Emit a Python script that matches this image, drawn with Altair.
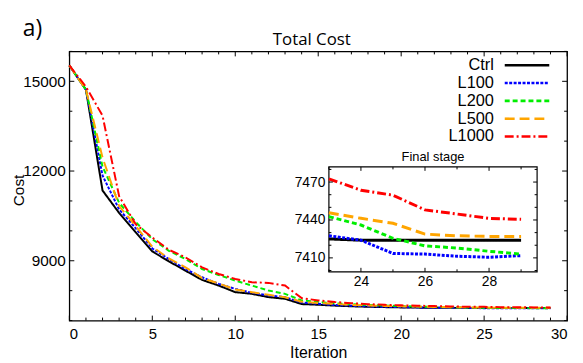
import altair as alt
import pandas as pd

# ---------------- data ----------------
ITER = list(range(30))
CTRL = [15530, 14720, 11350, 10600, 9950, 9312, 8980, 8668, 8359, 8171,
        7950, 7894, 7784, 7728, 7551, 7529, 7500, 7478, 7462, 7450,
        7440, 7433, 7428, 7425, 7424, 7424, 7424, 7424, 7424, 7424]
L100 = [15530, 14720, 11850, 10716, 10086, 9411, 9056, 8724, 8448, 8226,
        8060, 7928, 7838, 7784, 7600, 7560, 7520, 7495, 7476, 7462,
        7450, 7440, 7432, 7427.5, 7424, 7413.5, 7413, 7411.3, 7410.5, 7411.8]
L200 = [15530, 14720, 12150, 10937, 10296, 9721, 9333, 9056, 8724, 8525,
        8337, 8171, 8005, 7894, 7673, 7620, 7580, 7548, 7522, 7502,
        7485, 7470, 7455, 7442.6, 7436, 7425.5, 7419.5, 7417.8, 7415.2, 7413]
L500 = [15530, 14720, 12450, 10830, 10163, 9466, 9079, 8780, 8420, 8240,
        8038, 7950, 7861, 7780, 7630, 7590, 7555, 7525, 7505, 7490,
        7477, 7466, 7455, 7445.7, 7441.3, 7437.4, 7428.8, 7427.5, 7427, 7427]
L1000 = [15530, 14820, 13850, 11157, 10219, 9777, 9366, 9112, 8780, 8558,
         8392, 8282, 8260, 8171, 7751, 7673, 7620, 7580, 7550, 7527,
         7510, 7496, 7484, 7472.6, 7463.5, 7459.6, 7448, 7444.7, 7441.3, 7440.5]

SERIES = ["Ctrl", "L100", "L200", "L500", "L1000"]
VALUES = [CTRL, L100, L200, L500, L1000]
COLORS = ["#000000", "#0000ff", "#00ee00", "#ffa500", "#ff0000"]
DASHES = [[1, 0], [3, 1.5], [5, 3], [10, 5], [9, 3, 2, 3]]

X_DOMAIN = [0, 30]
Y_DOMAIN = [7000, 16000]
X_TICKS = [0, 5, 10, 15, 20, 25, 30]
X_MINOR = [v for v in range(0, 31) if v % 5]
Y_TICKS = [9000, 12000, 15000]
Y_MINOR = [7000, 8000, 10000, 11000, 13000, 14000, 16000]

INSET_START = 23
INSET_X = [23, 29.5]
INSET_Y = [7399, 7482]
INSET_X_TICKS = [24, 26, 28]
INSET_X_MINOR = [23, 25, 27, 29]
INSET_Y_TICKS = [7410, 7440, 7470]
INSET_Y_MINOR = [7400, 7420, 7430, 7450, 7460, 7480]

# ---------------- layout ----------------
W, H = 503, 272
INSET_PX_X = [262.3, 472.7]
INSET_PX_Y = [222.7, 116.7]
LBL_FONT = "Liberation Sans"
TTL_FONT = "Open Sans"

rows = []
for name, vals in zip(SERIES, VALUES):
    for i, v in zip(ITER, vals):
        rows.append({"iter": i, "cost": v, "series": name})
df = pd.DataFrame(rows)
inset_df = df[df["iter"] >= INSET_START]
one = pd.DataFrame({"k": [0]})

color = alt.Color("series:N", scale=alt.Scale(domain=SERIES, range=COLORS), legend=None)
dash = alt.StrokeDash("series:N", scale=alt.Scale(domain=SERIES, range=DASHES), legend=None)


def xs():
    return alt.Scale(domain=X_DOMAIN, nice=False)


def ys():
    return alt.Scale(domain=Y_DOMAIN, nice=False)


def ixs():
    return alt.Scale(domain=INSET_X, range=INSET_PX_X, nice=False)


def iys():
    return alt.Scale(domain=INSET_Y, range=INSET_PX_Y, nice=False)


main_lines = alt.Chart(df).mark_line(strokeWidth=2).encode(
    x=alt.X("iter:Q", scale=xs(), axis=alt.Axis(
        values=X_TICKS, ticks=False, domain=False, grid=False, format="d",
        labelFont=LBL_FONT, labelFontSize=15, labelPadding=6, labelColor="black",
        title="Iteration", titleFont=LBL_FONT, titleFontSize=16,
        titleFontWeight="normal", titlePadding=3, titleColor="black")),
    y=alt.Y("cost:Q", scale=ys(), axis=alt.Axis(
        values=Y_TICKS, ticks=False, domain=False, grid=False, format="d",
        labelFont=LBL_FONT, labelFontSize=15.5, labelPadding=4, labelColor="black",
        title="Cost", titleFont=LBL_FONT, titleFontSize=15.5, titleY=140,
        titleFontWeight="normal", titlePadding=-4, titleColor="black")),
    color=color, strokeDash=dash,
)


def xrules(values, y0, y1):
    return alt.Chart(pd.DataFrame({"v": values})).mark_rule(color="black", strokeWidth=1).encode(
        x=alt.X("v:Q", scale=xs(), axis=None), y=alt.value(y0), y2=alt.value(y1))


def yrules(values, x0, x1):
    return alt.Chart(pd.DataFrame({"v": values})).mark_rule(color="black", strokeWidth=1).encode(
        y=alt.Y("v:Q", scale=ys(), axis=None), x=alt.value(x0), x2=alt.value(x1))


main_ticks = [
    xrules(X_TICKS, H, H - 5), xrules(X_TICKS, 0, 5),
    xrules(X_MINOR, H, H - 3), xrules(X_MINOR, 0, 3),
    yrules(Y_TICKS, 0, 5), yrules(Y_TICKS, W, W - 5),
    yrules(Y_MINOR, 0, 3), yrules(Y_MINOR, W, W - 3),
]

# ---------------- inset ----------------
inset_bg = alt.Chart(one).mark_rect(fill="white", stroke="black", strokeWidth=1.2).encode(
    x=alt.XDatum(INSET_X[0], type="quantitative", scale=ixs(), axis=None),
    x2=alt.X2Datum(INSET_X[1]),
    y=alt.YDatum(INSET_Y[0], type="quantitative", scale=iys(), axis=None),
    y2=alt.Y2Datum(INSET_Y[1]),
)

inset_lines = alt.Chart(inset_df).mark_line(strokeWidth=3).encode(
    x=alt.X("iter:Q", scale=ixs(), axis=alt.Axis(
        orient="bottom", offset=-(H - INSET_PX_Y[0]), values=INSET_X_TICKS,
        ticks=False, domain=False, grid=False, format="d", title=None,
        labelFont=LBL_FONT, labelFontSize=14, labelPadding=3, labelColor="black")),
    y=alt.Y("cost:Q", scale=iys(), axis=alt.Axis(
        orient="left", offset=-INSET_PX_X[0], values=INSET_Y_TICKS,
        ticks=False, domain=False, grid=False, format="d", title=None,
        labelFont=LBL_FONT, labelFontSize=14, labelPadding=4, labelColor="black")),
    color=color, strokeDash=dash,
)


def ixrules(values, at, off):
    return alt.Chart(pd.DataFrame({"v": values})).mark_rule(
        color="black", strokeWidth=1, y2Offset=off).encode(
        x=alt.X("v:Q", scale=ixs(), axis=None),
        y=alt.YDatum(at, type="quantitative", scale=iys(), axis=None),
        y2=alt.Y2Datum(at))


def iyrules(values, at, off):
    return alt.Chart(pd.DataFrame({"v": values})).mark_rule(
        color="black", strokeWidth=1, x2Offset=off).encode(
        y=alt.Y("v:Q", scale=iys(), axis=None),
        x=alt.XDatum(at, type="quantitative", scale=ixs(), axis=None),
        x2=alt.X2Datum(at))


inset_ticks = [
    ixrules(INSET_X_TICKS, INSET_Y[0], -4), ixrules(INSET_X_TICKS, INSET_Y[1], 4),
    ixrules(INSET_X_MINOR, INSET_Y[0], -2.5), ixrules(INSET_X_MINOR, INSET_Y[1], 2.5),
    iyrules(INSET_Y_TICKS, INSET_X[0], 4), iyrules(INSET_Y_TICKS, INSET_X[1], -4),
    iyrules(INSET_Y_MINOR, INSET_X[0], 2.5), iyrules(INSET_Y_MINOR, INSET_X[1], -2.5),
]

inset_title = alt.Chart(one).mark_text(
    text="Final stage", font=LBL_FONT, fontSize=13, baseline="bottom", dy=-3, color="black").encode(
    x=alt.XDatum(sum(INSET_X) / 2, type="quantitative", scale=ixs(), axis=None),
    y=alt.YDatum(INSET_Y[1], type="quantitative", scale=iys(), axis=None),
)

# ---------------- legend (symbols to the right of labels) ----------------
leg_df = pd.DataFrame({"series": SERIES})


def ly():
    return alt.Y("series:N", scale=alt.Scale(type="point", domain=SERIES, range=[14, 86], padding=0), axis=None)


leg_text = alt.Chart(leg_df).mark_text(
    align="right", baseline="middle", font=LBL_FONT, fontSize=16.5, color="black").encode(
    y=ly(), x=alt.value(429), text="series:N")
leg_sym = alt.Chart(leg_df).mark_rule(strokeWidth=2.6).encode(
    y=ly(), x=alt.value(440), x2=alt.value(485), color=color, strokeDash=dash)

# ---------------- annotations ----------------
panel = alt.Chart(one).mark_text(
    text="a)", font=TTL_FONT, fontSize=23, align="left", baseline="alphabetic", color="black").encode(
    x=alt.value(-47), y=alt.value(-16))
title = alt.Chart(one).mark_text(
    text="Total Cost", font=TTL_FONT, fontSize=17, align="center", baseline="alphabetic", color="black").encode(
    x=alt.value(245), y=alt.value(-6))

chart = alt.layer(
    main_lines, *main_ticks, inset_bg, inset_lines, *inset_ticks, inset_title,
    leg_text, leg_sym, panel, title
).resolve_scale(
    x="independent", y="independent"
).properties(
    width=W, height=H,
    autosize=alt.AutoSizeParams(type="none"),
    padding={"left": 62, "top": 42, "right": 8, "bottom": 41},
    background="white",
).configure_view(stroke="black", strokeWidth=1.3)

chart.save("out.html", embed_options={"renderer": "svg", "actions": False})
